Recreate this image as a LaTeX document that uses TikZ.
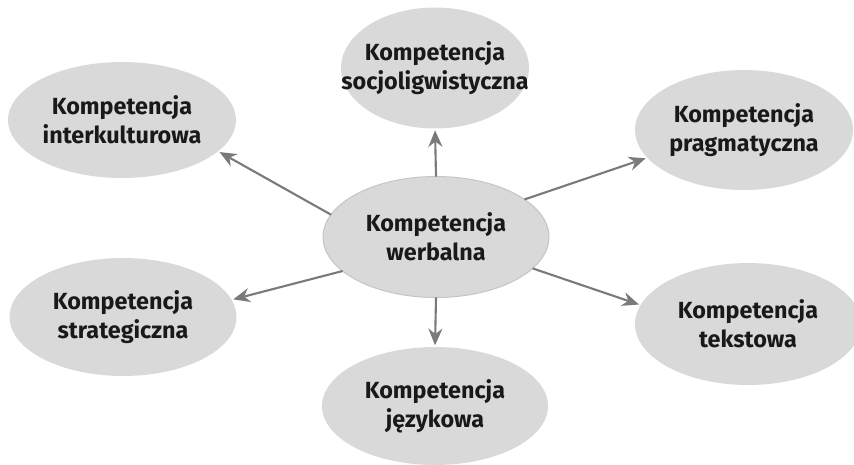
\documentclass[tikz,border=0pt]{standalone}
\usepackage{fontspec}
\setmainfont{Fira Sans}
\usetikzlibrary{shapes.geometric, arrows.meta}

\definecolor{blobgray}{HTML}{D9D9D9}
\definecolor{rimgray}{HTML}{C6C6C6}
\definecolor{arrowgray}{HTML}{7A7A7A}

\begin{document}
\begin{tikzpicture}[x=0.02cm, y=-0.02cm,
    comp/.style={ellipse, fill=blobgray, inner sep=0pt, outer sep=0pt},
    lbl/.style={align=center, text=black!90,
      font=\fontsize{13.3}{16.6}\selectfont\bfseries},
    link/.style={-{Stealth[length=9.5pt, width=8pt]}, arrowgray, line width=1.2pt, shorten >=1pt}]
  \useasboundingbox (0,0) rectangle (854,464);

  % middle
  \node[comp, draw=rimgray, line width=0.6pt, minimum width=4.52cm, minimum height=2.42cm,
        label={[lbl]center:Kompetencja\\werbalna}] (werb) at (436,237) {};

  % outer ring
  \node[comp, minimum width=3.76cm, minimum height=2.42cm,
        label={[lbl]center:Kompetencja\\socjoligwistyczna}] (socj) at (435,68) {};
  \node[comp, minimum width=4.56cm, minimum height=2.32cm,
        label={[lbl]center:Kompetencja\\interkulturowa}] (inter) at (122,120) {};
  \node[comp, minimum width=4.36cm, minimum height=2.40cm,
        label={[lbl]center:Kompetencja\\pragmatyczna}] (prag) at (744,130) {};
  \node[comp, minimum width=4.54cm, minimum height=2.36cm,
        label={[lbl]center:Kompetencja\\strategiczna}] (strat) at (123,317) {};
  \node[comp, minimum width=4.52cm, minimum height=2.44cm,
        label={[lbl]center:Kompetencja\\tekstowa}] (teks) at (748,324) {};
  \node[comp, minimum width=4.52cm, minimum height=2.36cm,
        label={[lbl]center:Kompetencja\\językowa}] (jez) at (435,406) {};

  % arrows
  \draw[link] (werb.90) -- (socj.270);
  \draw[link] (werb.168) -- (inter.342);
  \draw[link] (werb.23) -- (prag.196);
  \draw[link] (werb.200) -- (strat.9);
  \draw[link] (werb.342) -- (teks.170);
  \draw[link] (werb.270) -- (jez.90);
\end{tikzpicture}
\end{document}
